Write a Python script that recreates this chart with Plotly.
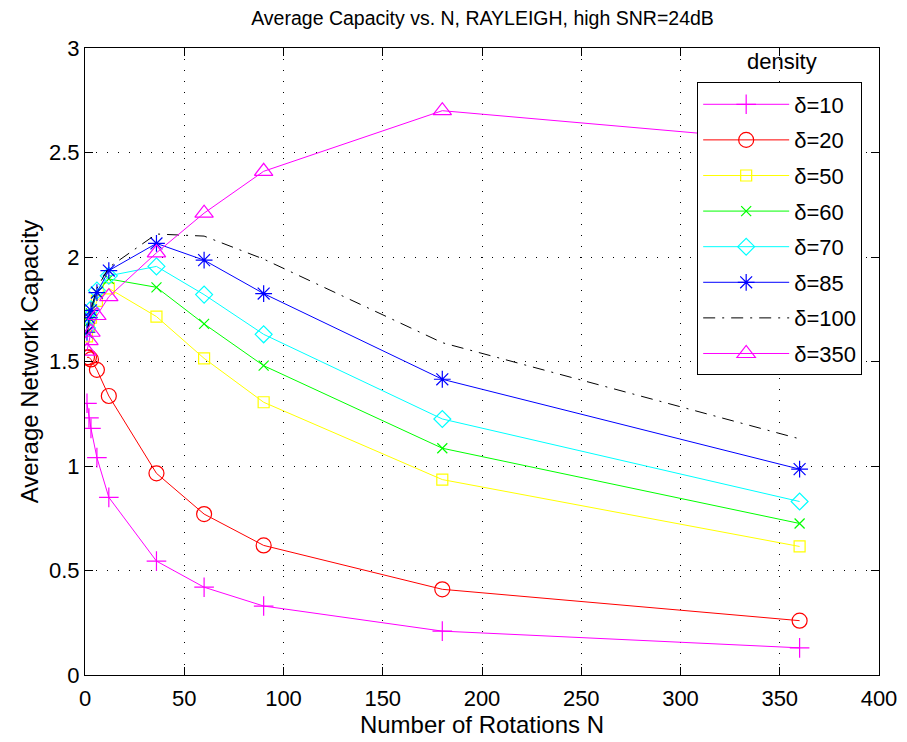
import plotly.graph_objects as go

N = [1, 2, 3, 6, 12, 36, 60, 90, 180, 360]
N100 = [1, 2, 3, 6, 12, 36, 60, 90, 180, 360]

d10 = [1.30, 1.23, 1.18, 1.04, 0.85, 0.545, 0.42, 0.33, 0.21, 0.13]
d20 = [1.52, 1.52, 1.51, 1.46, 1.335, 0.965, 0.77, 0.62, 0.41, 0.26]
d50 = [1.62, 1.67, 1.71, 1.79, 1.85, 1.715, 1.515, 1.305, 0.935, 0.615]
d60 = [1.64, 1.69, 1.73, 1.83, 1.895, 1.855, 1.68, 1.48, 1.085, 0.725]
d70 = [1.66, 1.71, 1.75, 1.84, 1.91, 1.955, 1.82, 1.63, 1.225, 0.83]
d85 = [1.64, 1.71, 1.745, 1.83, 1.935, 2.065, 1.985, 1.825, 1.415, 0.985]
d100 = [1.63, 1.70, 1.75, 1.85, 1.95, 2.11, 2.10, 1.99, 1.59, 1.13]
d350 = [1.55, 1.60, 1.64, 1.72, 1.81, 2.02, 2.21, 2.41, 2.70, 2.55]

names = ["δ=10", "δ=20", "δ=50", "δ=60", "δ=70", "δ=85", "δ=100", "δ=350"]
colors = ["#ff00ff", "#ff0000", "#ffff00", "#00ff00", "#00ffff", "#0000ff", "#000000", "#ff00ff"]
symbols = ["cross-thin-open", "circle-open", "square-open", "x-thin-open",
           "diamond-open", "asterisk-open", "none", "triangle-up-open"]
sizes = [14, 15, 11, 10, 13, 14, 0, 16]
series = [d10, d20, d50, d60, d70, d85, d100, d350]

fig = go.Figure()
for i, (nm, col, sym, sz, ys) in enumerate(zip(names, colors, symbols, sizes, series)):
    xs = N100 if nm == "δ=100" else N
    if sym == "none":
        fig.add_trace(go.Scatter(x=xs, y=ys, name=nm, mode="lines",
                                 line=dict(color=col, width=1, dash="12px,7px,2px,7px"),
                                 legendgroup=nm))
    else:
        fig.add_trace(go.Scatter(x=xs, y=ys, name=nm, mode="lines+markers",
                                 line=dict(color=col, width=1),
                                 marker=dict(symbol=sym, size=sz, color=col,
                                             line=dict(color=col, width=1.2)),
                                 legendgroup=nm))

font = "Liberation Sans, Arial, Helvetica, sans-serif"
axis_common = dict(
    showline=True, linecolor="black", linewidth=1, mirror="ticks",
    ticks="inside", ticklen=8, tickcolor="black", automargin=False,
    showgrid=True, gridcolor="black", gridwidth=1, griddash="1px,10px",
    zeroline=False, tickfont=dict(family=font, size=22, color="black"),
)

fig.update_layout(
    width=907, height=742,
    margin=dict(l=85, r=28, t=48, b=67),
    paper_bgcolor="white", plot_bgcolor="white",
    font=dict(family=font, size=22, color="black"),
    title=dict(text="Average Capacity vs. N, RAYLEIGH, high SNR=24dB",
               x=0.532, xanchor="center", y=1 - 18 / 742, yanchor="middle",
               yref="container", font=dict(family=font, size=19.5, color="black")),
    xaxis=dict(range=[0, 400], tickvals=list(range(0, 401, 50)),
               ticklabelstandoff=4,
               title=dict(text="Number of Rotations N", standoff=4,
                          font=dict(family=font, size=24)),
               **axis_common),
    yaxis=dict(range=[0, 3], tickvals=[0, 0.5, 1, 1.5, 2, 2.5, 3],
               ticktext=["0", "0.5", "1", "1.5", "2", "2.5", "3"],
               title=dict(text="Average Network Capacity", standoff=3,
                          font=dict(family=font, size=24)),
               **axis_common),
    legend=dict(x=0.771, y=0.945, xanchor="left", yanchor="top",
                bgcolor="white", bordercolor="black", borderwidth=1,
                font=dict(family=font, size=22, color="black"),
                traceorder="grouped", tracegroupgap=4, itemwidth=86),
    showlegend=True,
    annotations=[dict(text="density", xref="paper", yref="paper",
                      x=(782 - 85) / 794, y=(675 - 62) / 627,
                      xanchor="center", yanchor="middle", showarrow=False,
                      font=dict(family=font, size=22, color="black"))],
)

fig.write_html("out.html")
